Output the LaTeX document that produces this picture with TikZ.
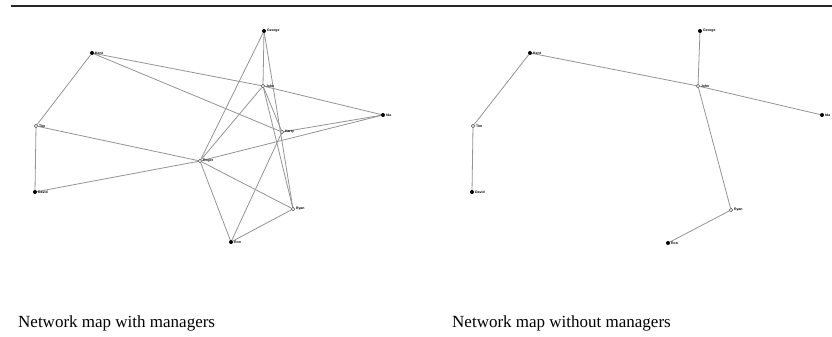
\documentclass[tikz,border=0pt]{standalone}
\usepackage{fontspec}
\setmainfont{Liberation Serif}
\newfontfamily\lblfont{Liberation Sans}
\begin{document}
\begin{tikzpicture}[x=1pt,y=-1pt,
  fullnode/.style={circle,fill=black,inner sep=0pt,minimum size=4pt},
  opennode/.style={circle,draw=black!70,fill=white,line width=0.5pt,inner sep=0pt,minimum size=3.5pt},
  lbl/.style={font=\lblfont\fontsize{3.5}{4}\selectfont\bfseries,text=black,anchor=west,inner sep=0.8pt},
  edge/.style={draw=black!42,line width=0.8pt},
  caption/.style={font=\fontsize{17}{20}\selectfont,anchor=base west,inner sep=0pt}]
\useasboundingbox (0,0) rectangle (832,337);
\coordinate (rl) at (11,6);
\coordinate (rr) at (832,6);
\draw[line width=2.6pt,black!85] (rl) -- (rr);

% ---------- left panel: with managers ----------
\node[fullnode] (aGeorge) at (264,31) {};
\node[fullnode] (aKent) at (92,53) {};
\node[opennode] (aJohn) at (263,86) {};
\node[fullnode] (aIda) at (383,115) {};
\node[opennode] (aTim) at (36,126) {};
\node[opennode] (aHarry) at (282,132) {};
\node[opennode] (aRoger) at (200,161) {};
\node[fullnode] (aDavid) at (35,192) {};
\node[opennode] (aRyan) at (293,209) {};
\node[fullnode] (aRon) at (231,242) {};

\foreach \a/\b in {aKent/aTim, aTim/aDavid, aKent/aJohn, aJohn/aIda, aKent/aHarry,
  aTim/aRoger, aDavid/aRoger, aRoger/aIda, aHarry/aIda, aRoger/aGeorge, aRoger/aJohn,
  aGeorge/aJohn, aGeorge/aRyan, aJohn/aHarry, aJohn/aRyan, aHarry/aRon,
  aRoger/aRyan, aRoger/aRon, aRyan/aRon}
  \draw[edge] (\a) -- (\b);

\foreach \n/\t in {aGeorge/George, aKent/Kent, aJohn/John, aIda/Ida, aTim/Tim,
  aHarry/Harry, aRoger/Roger, aDavid/David, aRyan/Ryan, aRon/Ron}
  \node[lbl] (\n-l) at (\n.east) {\t};

% ---------- right panel: without managers ----------
\node[fullnode] (bGeorge) at (700,31) {};
\node[fullnode] (bKent) at (530,53) {};
\node[opennode] (bJohn) at (698,86) {};
\node[fullnode] (bIda) at (822,115) {};
\node[opennode] (bTim) at (473,126) {};
\node[fullnode] (bDavid) at (472,192) {};
\node[opennode] (bRyan) at (731,210) {};
\node[fullnode] (bRon) at (668,243) {};

\foreach \a/\b in {bKent/bJohn, bGeorge/bJohn, bJohn/bIda, bJohn/bRyan, bRyan/bRon,
  bKent/bTim, bTim/bDavid}
  \draw[edge] (\a) -- (\b);

\foreach \n/\t in {bGeorge/George, bKent/Kent, bJohn/John, bIda/Ida, bTim/Tim,
  bDavid/David, bRyan/Ryan, bRon/Ron}
  \node[lbl] (\n-l) at (\n.east) {\t};

% ---------- captions ----------
\node[caption] (capA) at (18,327) {Network map with managers};
\node[caption] (capB) at (452,327) {Network map without managers};
\end{tikzpicture}
\end{document}
